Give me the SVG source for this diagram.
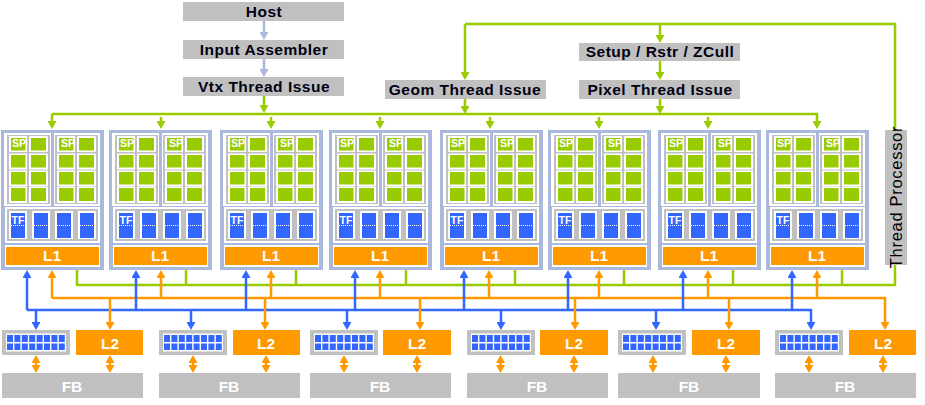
<svg xmlns="http://www.w3.org/2000/svg" xmlns:xlink="http://www.w3.org/1999/xlink" width="925" height="405" viewBox="0 0 925 405">
<style>
.g{stroke:#99cc00}.o{stroke:#ff9900}.b{stroke:#3366ff}.l{stroke:#a9b8dc}
#connectors line,#connectors polyline{fill:none;stroke-width:2.5}
.gm{marker-end:url(#mg)}.om{marker-end:url(#mo)}.bm{marker-end:url(#mb)}.lm{marker-end:url(#ml)}
.dm{marker-start:url(#mos);marker-end:url(#mo)}
.hd{font:bold 15.5px "Liberation Sans",Arial,sans-serif;fill:#000014;text-anchor:middle;letter-spacing:.5px}
.tp{font:16.5px "Liberation Sans",Arial,sans-serif;fill:#000;text-anchor:middle;letter-spacing:.7px}
.w{font:bold 15.5px "Liberation Sans",Arial,sans-serif;fill:#fff;text-anchor:middle}
.s{font:bold 10.5px "Liberation Sans",Arial,sans-serif;fill:#fff;text-anchor:middle}
.gy{fill:#c0c0c0}.wt{fill:#fff}.gr{fill:#99cc00}.bl{fill:#3366ff}.or{fill:#ff9900}
</style>
<defs>
<marker id="mg" markerUnits="userSpaceOnUse" markerWidth="8" markerHeight="9" refX="1" refY="4.500" orient="auto"><path d="M0 0L8 4.500L0 9z" fill="#99cc00"/></marker>
<marker id="mo" markerUnits="userSpaceOnUse" markerWidth="8" markerHeight="9" refX="1" refY="4.500" orient="auto"><path d="M0 0L8 4.500L0 9z" fill="#ff9900"/></marker>
<marker id="mos" markerUnits="userSpaceOnUse" markerWidth="8" markerHeight="9" refX="7" refY="4.500" orient="auto"><path d="M8 0L0 4.500L8 9z" fill="#ff9900"/></marker>
<marker id="mb" markerUnits="userSpaceOnUse" markerWidth="8" markerHeight="9" refX="1" refY="4.500" orient="auto"><path d="M0 0L8 4.500L0 9z" fill="#3366ff"/></marker>
<marker id="ml" markerUnits="userSpaceOnUse" markerWidth="8" markerHeight="9" refX="1" refY="4.500" orient="auto"><path d="M0 0L8 4.500L0 9z" fill="#a9b8dc"/></marker>
<g id="spcells">
<rect class="gy" width="43" height="69"/>
<g class="wt"><rect x="2" y="1" width="18" height="16"/><rect x="22" y="1" width="19" height="16"/><rect x="2" y="18.500" width="18" height="16"/><rect x="22" y="18.500" width="19" height="16"/><rect x="2" y="35.500" width="18" height="16"/><rect x="22" y="35.500" width="19" height="16"/><rect x="2" y="52" width="18" height="16"/><rect x="22" y="52" width="19" height="16"/></g>
<g class="gr"><rect x="4" y="3" width="14.500" height="12.500"/><rect x="24" y="3" width="15" height="12.500"/><rect x="4" y="20" width="14.500" height="12.500"/><rect x="24" y="20" width="15" height="12.500"/><rect x="4" y="37" width="14.500" height="12.500"/><rect x="24" y="37" width="15" height="12.500"/><rect x="4" y="53" width="14.500" height="13"/><rect x="24" y="53" width="15" height="13"/></g>
</g>
<g id="cl">
<rect fill="#a9b8dc" width="103" height="140"/>
<rect class="wt" x="3" y="3" width="47" height="73"/><rect class="wt" x="53" y="3" width="46" height="73"/>
<use href="#spcells" xlink:href="#spcells" x="6" y="5"/><use href="#spcells" x="54" y="5" xlink:href="#spcells"/>
<rect class="wt" x="4" y="77" width="95" height="36"/><rect class="gy" x="6" y="79" width="91" height="32"/>
<g class="wt"><rect x="8" y="81" width="18" height="28"/><rect x="31" y="81" width="18" height="28"/><rect x="54" y="81" width="18" height="28"/><rect x="77" y="81" width="18" height="28"/></g>
<g class="bl"><rect x="10" y="83" width="14" height="25"/><rect x="33" y="83" width="14" height="25"/><rect x="56" y="83" width="14" height="25"/><rect x="79" y="83" width="14" height="25"/></g>
<path d="M10 95.500h14M33 95.500h14M56 95.500h14M79 95.500h14" stroke="#fff" stroke-dasharray="1 1" fill="none"/>
<rect class="wt" x="4" y="115" width="95" height="22"/><rect class="or" x="5" y="117" width="93" height="18"/>
</g>
<g id="mem">
<rect class="gy" width="68" height="25"/>
<rect class="wt" x="4" y="3.500" width="60" height="18"/>
<g class="bl"><rect x="5" y="5" width="6" height="7"/><rect x="12.400" y="5" width="6" height="7"/><rect x="19.800" y="5" width="6" height="7"/><rect x="27.200" y="5" width="6" height="7"/><rect x="34.600" y="5" width="6" height="7"/><rect x="42" y="5" width="6" height="7"/><rect x="49.400" y="5" width="6" height="7"/><rect x="56.800" y="5" width="6" height="7"/><rect x="5" y="13.500" width="6" height="6.500"/><rect x="12.400" y="13.500" width="6" height="6.500"/><rect x="19.800" y="13.500" width="6" height="6.500"/><rect x="27.200" y="13.500" width="6" height="6.500"/><rect x="34.600" y="13.500" width="6" height="6.500"/><rect x="42" y="13.500" width="6" height="6.500"/><rect x="49.400" y="13.500" width="6" height="6.500"/><rect x="56.800" y="13.500" width="6" height="6.500"/></g>
</g>
</defs>
<rect width="925" height="405" fill="#fff"/>
<g id="connectors">
<line class="l lm" x1="264" y1="21" x2="264" y2="33"/>
<line class="l lm" x1="264" y1="59" x2="264" y2="70"/>
<line class="g gm" x1="264" y1="96" x2="264" y2="106"/>
<polyline class="g" points="465,24 895,24 895,285 77,285 77,270"/>
<line class="g gm" x1="465" y1="24" x2="465" y2="73"/>
<line class="g gm" x1="465" y1="99" x2="465" y2="107"/>
<line class="g gm" x1="660" y1="24" x2="660" y2="36"/>
<line class="g gm" x1="660" y1="61" x2="660" y2="73"/>
<line class="g gm" x1="660" y1="99" x2="660" y2="107"/>
<polyline class="g gm" points="52,114 817,114 817,122"/>
<line class="g gm" x1="52" y1="114" x2="52" y2="122"/>
<line class="g gm" x1="161" y1="117" x2="161" y2="122"/>
<line class="g gm" x1="271" y1="117" x2="271" y2="122"/>
<line class="g gm" x1="380" y1="117" x2="380" y2="122"/>
<line class="g gm" x1="490" y1="117" x2="490" y2="122"/>
<line class="g gm" x1="599" y1="117" x2="599" y2="122"/>
<line class="g gm" x1="708" y1="117" x2="708" y2="122"/>
<line class="g" x1="186" y1="270" x2="186" y2="285"/>
<line class="g" x1="296" y1="270" x2="296" y2="285"/>
<line class="g" x1="406" y1="270" x2="406" y2="285"/>
<line class="g" x1="515" y1="270" x2="515" y2="285"/>
<line class="g" x1="624" y1="270" x2="624" y2="285"/>
<line class="g" x1="733" y1="270" x2="733" y2="285"/>
<line class="g" x1="842" y1="270" x2="842" y2="285"/>
<polyline class="o om" points="52,298 885,298 885,323"/>
<line class="o om" x1="52" y1="298" x2="52" y2="277"/>
<line class="o om" x1="161" y1="298" x2="161" y2="277"/>
<line class="o om" x1="271" y1="298" x2="271" y2="277"/>
<line class="o om" x1="380" y1="298" x2="380" y2="277"/>
<line class="o om" x1="489" y1="298" x2="489" y2="277"/>
<line class="o om" x1="599" y1="298" x2="599" y2="277"/>
<line class="o om" x1="708" y1="298" x2="708" y2="277"/>
<line class="o om" x1="817" y1="298" x2="817" y2="277"/>
<line class="b bm" x1="136" y1="310" x2="136" y2="277"/>
<line class="b bm" x1="246" y1="310" x2="246" y2="277"/>
<line class="b bm" x1="355" y1="310" x2="355" y2="277"/>
<line class="b bm" x1="464" y1="310" x2="464" y2="277"/>
<line class="b bm" x1="568" y1="310" x2="568" y2="277"/>
<line class="b bm" x1="683" y1="310" x2="683" y2="277"/>
<line class="b bm" x1="792" y1="310" x2="792" y2="277"/>
<polyline class="b bm" points="27,310 811,310 811,323"/>
<line class="b bm" x1="27" y1="310" x2="27" y2="277"/>
<line class="b bm" x1="36" y1="310" x2="36" y2="323"/>
<line class="b bm" x1="191" y1="310" x2="191" y2="323"/>
<line class="b bm" x1="347" y1="310" x2="347" y2="323"/>
<line class="b bm" x1="501" y1="310" x2="501" y2="323"/>
<line class="b bm" x1="656" y1="310" x2="656" y2="323"/>
<line class="o om" x1="110" y1="298" x2="110" y2="323"/>
<line class="o om" x1="265" y1="298" x2="265" y2="323"/>
<line class="o om" x1="420" y1="298" x2="420" y2="323"/>
<line class="o om" x1="575" y1="298" x2="575" y2="323"/>
<line class="o om" x1="729" y1="298" x2="729" y2="323"/>
<line class="o dm" x1="36" y1="362" x2="36" y2="366"/><line class="o dm" x1="110" y1="362" x2="110" y2="366"/>
<line class="o dm" x1="193" y1="362" x2="193" y2="366"/><line class="o dm" x1="266" y1="362" x2="266" y2="366"/>
<line class="o dm" x1="344" y1="362" x2="344" y2="366"/><line class="o dm" x1="417" y1="362" x2="417" y2="366"/>
<line class="o dm" x1="500.500" y1="362" x2="500.500" y2="366"/><line class="o dm" x1="574" y1="362" x2="574" y2="366"/>
<line class="o dm" x1="653" y1="362" x2="653" y2="366"/><line class="o dm" x1="726" y1="362" x2="726" y2="366"/>
<line class="o dm" x1="809" y1="362" x2="809" y2="366"/><line class="o dm" x1="883" y1="362" x2="883" y2="366"/>
</g>
<g id="host"><rect class="gy" x="183" y="2" width="161" height="19"/><text class="hd" x="264" y="17">Host</text></g>
<g id="input-assembler"><rect class="gy" x="183" y="40" width="161" height="19"/><text class="hd" x="264" y="55">Input Assembler</text></g>
<g id="vtx-thread-issue"><rect class="gy" x="183" y="77" width="161" height="19"/><text class="hd" x="264" y="92">Vtx Thread Issue</text></g>
<g id="geom-thread-issue"><rect class="gy" x="385" y="80" width="161" height="19"/><text class="hd" x="465" y="95">Geom Thread Issue</text></g>
<g id="setup-rstr-zcull"><rect class="gy" x="579" y="43" width="161" height="18"/><text class="hd" x="660" y="57">Setup / Rstr / ZCull</text></g>
<g id="pixel-thread-issue"><rect class="gy" x="579" y="80" width="161" height="19"/><text class="hd" x="660" y="95">Pixel Thread Issue</text></g>
<g id="thread-processor"><rect class="gy" x="885" y="130" width="22" height="135"/><text class="tp" transform="translate(902,197) rotate(-90)">Thread Processor</text></g>
<g id="cluster-1" transform="translate(1,130)"><use href="#cl" xlink:href="#cl"/><text class="s" x="18" y="17">SP</text><text class="s" x="67" y="17">SP</text><text class="s" x="17" y="94">TF</text><text class="w" x="51" y="131">L1</text></g>
<g id="cluster-2" transform="translate(109,130)"><use href="#cl" xlink:href="#cl"/><text class="s" x="18" y="17">SP</text><text class="s" x="67" y="17">SP</text><text class="s" x="17" y="94">TF</text><text class="w" x="51" y="131">L1</text></g>
<g id="cluster-3" transform="translate(220,130)"><use href="#cl" xlink:href="#cl"/><text class="s" x="18" y="17">SP</text><text class="s" x="67" y="17">SP</text><text class="s" x="17" y="94">TF</text><text class="w" x="51" y="131">L1</text></g>
<g id="cluster-4" transform="translate(329,130)"><use href="#cl" xlink:href="#cl"/><text class="s" x="18" y="17">SP</text><text class="s" x="67" y="17">SP</text><text class="s" x="17" y="94">TF</text><text class="w" x="51" y="131">L1</text></g>
<g id="cluster-5" transform="translate(440,130)"><use href="#cl" xlink:href="#cl"/><text class="s" x="18" y="17">SP</text><text class="s" x="67" y="17">SP</text><text class="s" x="17" y="94">TF</text><text class="w" x="51" y="131">L1</text></g>
<g id="cluster-6" transform="translate(548,130)"><use href="#cl" xlink:href="#cl"/><text class="s" x="18" y="17">SP</text><text class="s" x="67" y="17">SP</text><text class="s" x="17" y="94">TF</text><text class="w" x="51" y="131">L1</text></g>
<g id="cluster-7" transform="translate(658,130)"><use href="#cl" xlink:href="#cl"/><text class="s" x="18" y="17">SP</text><text class="s" x="67" y="17">SP</text><text class="s" x="17" y="94">TF</text><text class="w" x="51" y="131">L1</text></g>
<g id="cluster-8" transform="translate(766,130)"><use href="#cl" xlink:href="#cl"/><text class="s" x="18" y="17">SP</text><text class="s" x="67" y="17">SP</text><text class="s" x="17" y="94">TF</text><text class="w" x="51" y="131">L1</text></g>
<g id="mem-1"><use href="#mem" xlink:href="#mem" x="2" y="330"/></g>
<g id="l2-1"><rect class="or" x="76" y="330" width="67" height="25"/><text class="w" x="110" y="349">L2</text></g>
<g id="fb-1"><rect class="gy" x="2" y="373" width="141" height="25"/><text class="w" x="72" y="392">FB</text></g>
<g id="mem-2"><use href="#mem" xlink:href="#mem" x="159" y="330"/></g>
<g id="l2-2"><rect class="or" x="233" y="330" width="67" height="25"/><text class="w" x="266" y="349">L2</text></g>
<g id="fb-2"><rect class="gy" x="159" y="373" width="141" height="25"/><text class="w" x="229" y="392">FB</text></g>
<g id="mem-3"><use href="#mem" xlink:href="#mem" x="310" y="330"/></g>
<g id="l2-3"><rect class="or" x="383" y="330" width="68" height="25"/><text class="w" x="417" y="349">L2</text></g>
<g id="fb-3"><rect class="gy" x="310" y="373" width="141" height="25"/><text class="w" x="380" y="392">FB</text></g>
<g id="mem-4"><use href="#mem" xlink:href="#mem" x="467" y="330"/></g>
<g id="l2-4"><rect class="or" x="540" y="330" width="68" height="25"/><text class="w" x="574" y="349">L2</text></g>
<g id="fb-4"><rect class="gy" x="467" y="373" width="141" height="25"/><text class="w" x="537" y="392">FB</text></g>
<g id="mem-5"><use href="#mem" xlink:href="#mem" x="618" y="330"/></g>
<g id="l2-5"><rect class="or" x="692" y="330" width="68" height="25"/><text class="w" x="726" y="349">L2</text></g>
<g id="fb-5"><rect class="gy" x="618" y="373" width="142" height="25"/><text class="w" x="689" y="392">FB</text></g>
<g id="mem-6"><use href="#mem" xlink:href="#mem" x="775" y="330"/></g>
<g id="l2-6"><rect class="or" x="849" y="330" width="67" height="25"/><text class="w" x="883" y="349">L2</text></g>
<g id="fb-6"><rect class="gy" x="775" y="373" width="141" height="25"/><text class="w" x="845" y="392">FB</text></g>
</svg>
